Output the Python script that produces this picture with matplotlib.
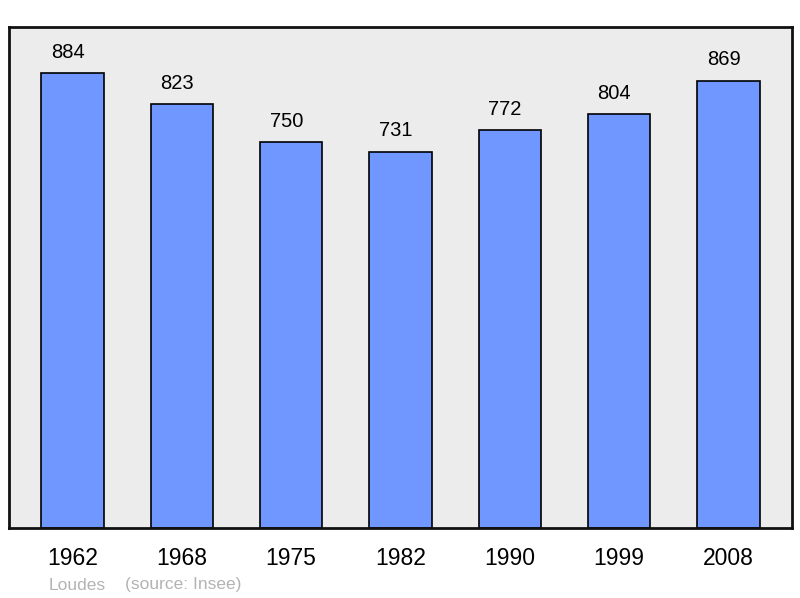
import matplotlib.pyplot as plt

years = ['1962', '1968', '1975', '1982', '1990', '1999', '2008']
population = [884, 823, 750, 731, 772, 804, 869]
place = 'Loudes'
source = '(source: Insee)'

plt.rcParams['font.family'] = ['Liberation Sans', 'DejaVu Sans']

fig = plt.figure(figsize=(8, 5.98), dpi=100)
ax = fig.add_axes([9 / 800, 70 / 598, 783 / 800, 501 / 598])
ax.set_facecolor('#ececec')

x = range(len(years))
ax.bar(x, population, width=0.57, color='#7097ff', edgecolor='black',
       linewidth=1.2, zorder=2)
for xi, v in zip(x, population):
    ax.annotate(str(v), (xi, v), xytext=(-3.5, 8), textcoords='offset points',
                ha='center', va='bottom', fontsize=14.5)

ax.set_xlim(-0.58, 6.58)
ax.set_ylim(0, 973)
ax.set_yticks([])
ax.set_xticks(list(x))
ax.set_xticklabels(years, fontsize=16.5)
ax.tick_params(axis='x', length=0, pad=14)
for s in ax.spines.values():
    s.set_linewidth(2)
    s.set_color('#111111')

fig.text(49 / 800, 1 - 585 / 598, place, fontsize=12.5, color='#b3b3b3',
         va='center', ha='left')
fig.text(125 / 800, 1 - 585 / 598, source, fontsize=12.5, color='#b3b3b3',
         va='center', ha='left')

fig.savefig('out.png', dpi=100)
